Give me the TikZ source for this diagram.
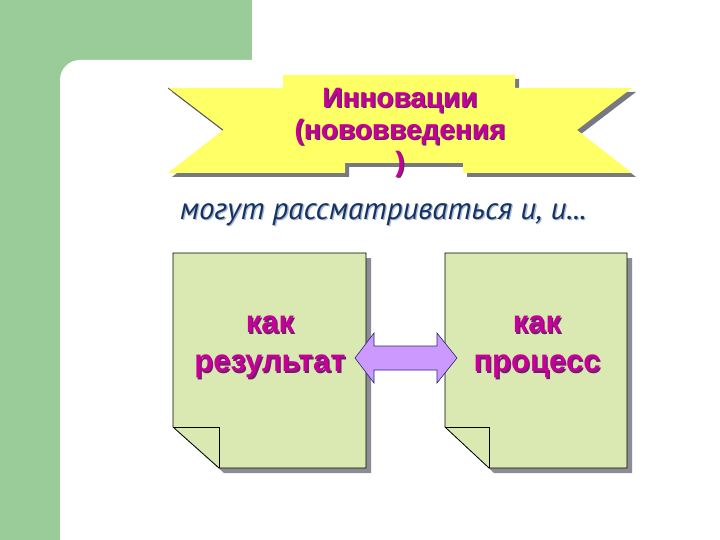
\documentclass[tikz,border=0pt]{standalone}
\usepackage{fontspec}
\setmainfont{Liberation Sans}
\newfontfamily\ptsans{PT Sans}
\definecolor{leftgreen}{RGB}{153,204,153}
\definecolor{bannerY}{RGB}{255,255,102}
\definecolor{shadowG}{RGB}{120,120,130}
\definecolor{pageshd}{RGB}{140,140,150}
\definecolor{pageG}{RGB}{218,232,178}
\definecolor{magt}{RGB}{196,0,150}
\definecolor{magsh}{RGB}{110,30,110}
\definecolor{navy}{RGB}{20,50,100}
\definecolor{navysh}{RGB}{170,185,210}
\definecolor{lav}{RGB}{204,153,255}
\definecolor{arrowline}{RGB}{40,40,120}
\newcommand\shtx[2]{\makebox[0pt][l]{\hspace{1.3pt}\raisebox{-1.3pt}{\color{#2}#1}}#1}
\tikzset{
  magtext/.style={font=\fontsize{28}{32}\selectfont\bfseries, text=magt, align=center, inner sep=0pt},
  boxtext/.style={font=\fontsize{31}{39}\selectfont\bfseries, text=magt, align=center, inner sep=0pt},
  pagebox/.style={fill=pageG, draw=black, line width=0.8pt},
  pageshadow/.style={fill=pageshd},
}
\begin{document}
\begin{tikzpicture}[x=1pt,y=-1pt]
\useasboundingbox (0,0) rectangle (720,540);
% background frame
\fill[white] (0,0) rectangle (720,540);
\fill[leftgreen] (0,0) rectangle (252,60);
\fill[leftgreen] (0,0) rectangle (60,540);
\fill[leftgreen] (60,60) rectangle (90,90);
\fill[white, rounded corners=20pt] (60,60) rectangle (760,580);
% banner shadow
\fill[shadowG] ([shift={(4,4)}]168,88) -- ++(115,0) -- ++(0,-13) -- ++(232,0) -- ++(0,13) -- ++(117,0)
  -- ++(-55,42) -- ++(55,43) -- ++(-169,0) -- ++(0,-10) -- ++(-118,0) -- ++(0,10) -- ++(-177,0) -- ++(55,-43) -- cycle;
% banner
\fill[bannerY] (168,88) -- (283,88) -- (283,75) -- (515,75) -- (515,88) -- (632,88)
  -- (577,130) -- (632,173) -- (463,173) -- (463,163) -- (345,163) -- (345,173) -- (168,173) -- (223,130) -- cycle;
\draw[line width=0.7pt, black!70] (168,88) -- (223,130);
\node[magtext] (title) at (400,133) {\shtx{Инновации}{magsh}\\\shtx{(нововведения}{magsh}\\\shtx{)}{magsh}};
% subtitle
\node[font=\ptsans\itshape\fontsize{31}{34}\selectfont, text=navy, inner sep=0pt, anchor=base] (sub) at (383,219) {\shtx{могут рассматриваться и, и...}{navysh}};
% left page
\fill[pageshadow] (178,258) -- (371,258) -- (371,473) -- (224,473) -- (178,432) -- cycle;
\draw[pagebox] (173,253) -- (366,253) -- (366,468) -- (219,468) -- (173,427) -- cycle;
\draw[line width=0.8pt] (173,427) -- (219,427) -- (219,468);
\node[boxtext] (res) at (270,348) {\shtx{как}{magsh}\\\shtx{результат}{magsh}};
% right page
\fill[pageshadow] (450,258) -- (632,258) -- (632,473) -- (494,473) -- (450,432) -- cycle;
\draw[pagebox] (445,253) -- (627,253) -- (627,468) -- (489,468) -- (445,427) -- cycle;
\draw[line width=0.8pt] (445,427) -- (489,427) -- (489,468);
\node[boxtext] (proc) at (537,348) {\shtx{как}{magsh}\\\shtx{процесс}{magsh}};
% double arrow
\coordinate (la) at (355,358);
\coordinate (ra) at (457,358);
\filldraw[fill=lav, draw=arrowline, line width=0.6pt]
  (la) -- (374,333) -- (374,346) -- (437,346) -- (437,333) -- (ra) -- (437,383) -- (437,370) -- (374,370) -- (374,383) -- cycle;
\end{tikzpicture}
\end{document}
